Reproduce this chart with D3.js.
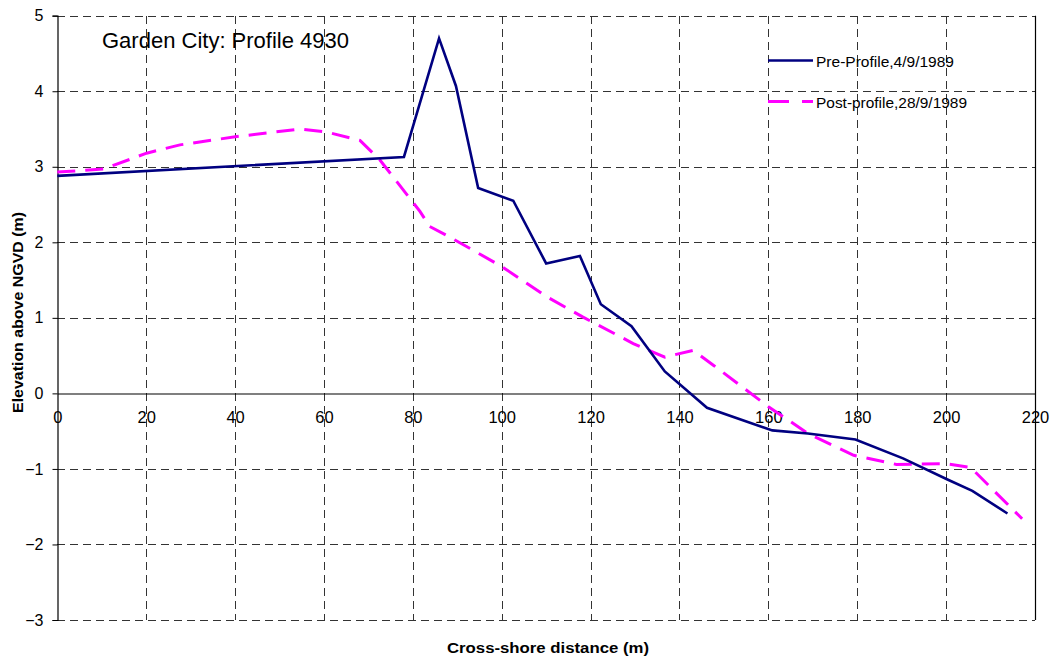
<!DOCTYPE html>
<html>
<head>
<meta charset="utf-8">
<script src="https://cdn.jsdelivr.net/npm/d3@7"></script>
<style>
  html, body { margin: 0; padding: 0; background: #fff; }
  svg { display: block; font-family: "Liberation Sans", Arial, sans-serif; }
</style>
</head>
<body>
<svg id="chart" width="1052" height="658"></svg>
<script>
// Pre-storm profile, 4/9/1989: distance (m) and elevation (m)
const preDistance  = [0, 78.0, 85.9, 89.7, 94.7, 102.6, 110.0, 117.6, 122.3, 129.2, 136.7, 146.2, 160.9, 168.9, 179.6, 190.3, 200.3, 205.9, 213.8];
const preElevation = [2.88, 3.13, 4.70, 4.07, 2.72, 2.55, 1.72, 1.82, 1.18, 0.89, 0.29, -0.19, -0.49, -0.53, -0.61, -0.86, -1.14, -1.29, -1.59];

// Post-storm profile, 28/9/1989
const postDistance  = [0, 10.4, 20.1, 27.6, 40.4, 54.6, 60.6, 68.1, 72.6, 81.6, 83.8, 88.3, 100.0, 110.1, 118.3, 129.6, 136.7, 143.1, 147.7, 160.1, 168.9, 179.2, 188.8, 199.9, 205.5, 217.1];
const postElevation = [2.93, 2.97, 3.18, 3.29, 3.40, 3.50, 3.46, 3.35, 3.09, 2.41, 2.21, 2.07, 1.68, 1.28, 1.01, 0.66, 0.48, 0.57, 0.37, -0.18, -0.53, -0.82, -0.94, -0.93, -0.98, -1.66];

const xTicks = [0, 20, 40, 60, 80, 100, 120, 140, 160, 180, 200, 220];
const yTicks = [-3, -2, -1, 0, 1, 2, 3, 4, 5];

const seriesNames = ["Pre-Profile,4/9/1989", "Post-profile,28/9/1989"];
const chartTitle = "Garden City: Profile 4930";
const xTitle = "Cross-shore distance (m)";
const yTitle = "Elevation above NGVD (m)";

const svg = d3.select("#chart");
const plot = { left: 57.3, right: 1035, top: 15.7, bottom: 620 };
const FONT = "Liberation Sans, Arial, sans-serif";

const x = d3.scaleLinear().domain([0, 220]).range([plot.left, plot.right]);
const y = d3.scaleLinear().domain([-3, 5]).range([plot.bottom, plot.top]);

// Dashed grid lines
const grid = svg.append("g").attr("stroke", "#333").attr("stroke-width", 1)
  .attr("stroke-dasharray", "8,5").attr("shape-rendering", "crispEdges");
grid.selectAll("line.h").data(yTicks.filter(d => d !== 0)).join("line")
  .attr("class", "h")
  .attr("x1", plot.left).attr("x2", plot.right)
  .attr("y1", d => Math.round(y(d)) + 0.5).attr("y2", d => Math.round(y(d)) + 0.5);
grid.selectAll("line.v").data(xTicks.filter(d => d !== 0 && d !== 220)).join("line")
  .attr("class", "v")
  .attr("x1", d => Math.round(x(d)) + 0.5).attr("x2", d => Math.round(x(d)) + 0.5)
  .attr("y1", plot.top).attr("y2", plot.bottom);

// Right border
svg.append("line")
  .attr("x1", Math.round(plot.right) + 0.5).attr("x2", Math.round(plot.right) + 0.5)
  .attr("y1", plot.top).attr("y2", plot.bottom)
  .attr("stroke", "#000").attr("stroke-width", 1.2);

// Y axis (left edge)
const yAxis = d3.axisLeft(y).tickValues(yTicks).tickSize(5).tickPadding(9).tickFormat(d3.format("d"));
const yG = svg.append("g").attr("transform", `translate(${Math.round(plot.left) + 0.5},0)`).call(yAxis);
yG.select(".domain").attr("stroke", "#000").attr("stroke-width", 1.2);
yG.selectAll("text").attr("font-size", 16).attr("fill", "#000").attr("font-family", FONT);

// X axis along zero elevation, labels below the line
const xAxis = d3.axisBottom(x).tickValues(xTicks).tickSize(0).tickPadding(18).tickFormat(d3.format("d"));
const xG = svg.append("g").attr("transform", `translate(0,${Math.round(y(0)) + 0.5})`).call(xAxis);
xG.select(".domain").attr("stroke", "#000").attr("stroke-width", 1.2);
xG.selectAll("text").attr("font-size", 16.5).attr("fill", "#000").attr("font-family", FONT);

// Profile lines
const line = d3.line().x(d => x(d[0])).y(d => y(d[1]));
const prePts = preDistance.map((d, i) => [d, preElevation[i]]);
const postPts = postDistance.map((d, i) => [d, postElevation[i]]);

svg.append("path").datum(postPts).attr("d", line)
  .attr("fill", "none").attr("stroke", "#ff00ff").attr("stroke-width", 3)
  .attr("stroke-dasharray", "18,10");
svg.append("path").datum(prePts).attr("d", line)
  .attr("fill", "none").attr("stroke", "#000080").attr("stroke-width", 2.6)
  .attr("stroke-linejoin", "miter");

// Chart title inside plot
svg.append("text").attr("x", 102).attr("y", 48)
  .attr("font-size", 22).attr("fill", "#000").text(chartTitle);

// Legend
const legend = svg.append("g");
const legendItems = [
  { name: seriesNames[0], color: "#000080", dash: null, width: 2.6, yPos: 60.5, len: 138 },
  { name: seriesNames[1], color: "#ff00ff", dash: "21,13", width: 3, yPos: 101.5, len: 151 }
];
legendItems.forEach(it => {
  legend.append("line").attr("x1", 768).attr("x2", 813)
    .attr("y1", it.yPos).attr("y2", it.yPos)
    .attr("stroke", it.color).attr("stroke-width", it.width)
    .attr("stroke-dasharray", it.dash);
  legend.append("text").attr("x", 816).attr("y", it.yPos + 6)
    .attr("font-size", 14).attr("fill", "#000")
    .attr("textLength", it.len).attr("lengthAdjust", "spacingAndGlyphs")
    .text(it.name);
});

// Axis titles
svg.append("text").attr("x", 447).attr("y", 653)
  .attr("font-size", 14).attr("font-weight", "bold")
  .attr("textLength", 202).attr("lengthAdjust", "spacingAndGlyphs")
  .text(xTitle);
svg.append("text")
  .attr("transform", `translate(23,413) rotate(-90)`)
  .attr("font-size", 14).attr("font-weight", "bold")
  .attr("textLength", 201).attr("lengthAdjust", "spacingAndGlyphs")
  .text(yTitle);
</script>
</body>
</html>
